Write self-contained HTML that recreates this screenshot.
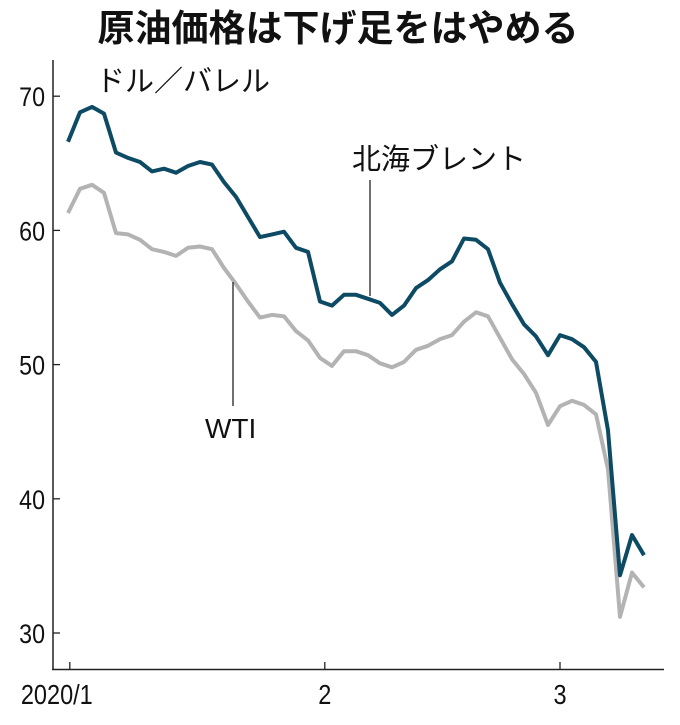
<!DOCTYPE html>
<html><head><meta charset="utf-8"><style>
body{margin:0;background:#fff;}
svg text{font-family:"Liberation Sans","Noto Sans CJK JP",sans-serif;}
</style></head><body>
<svg width="680" height="720" viewBox="0 0 680 720">
<text x="338" y="41" text-anchor="middle" font-size="37" font-weight="bold" fill="#111" style="font-family:'Noto Sans CJK JP',sans-serif">原油価格は下げ足をはやめる</text>
<text x="96" y="91" font-size="29" fill="#111" style="font-family:'Noto Sans CJK JP',sans-serif">ドル／バレル</text>
<g id="axes"></g>
<g id="series"></g>
<text x="352" y="169" font-size="29" fill="#111" style="font-family:'Noto Sans CJK JP',sans-serif">北海ブレント</text>
<line x1="370" y1="180" x2="370" y2="296" stroke="#222" stroke-width="1.3"/>
<text x="205" y="438" font-size="28" fill="#111">WTI</text>
<line x1="233" y1="282" x2="233" y2="406" stroke="#222" stroke-width="1.3"/>
</svg>
<script>
const brent=[66.6,68.8,69.2,68.7,65.8,65.4,65.1,64.4,64.6,64.3,64.8,65.1,64.9,63.6,62.5,61.0,59.5,59.7,59.9,58.7,58.4,54.7,54.4,55.2,55.2,54.9,54.6,53.7,54.4,55.7,56.3,57.1,57.7,59.4,59.3,58.6,56.1,54.5,53.0,52.1,50.7,52.2,51.9,51.3,50.2,45.1,34.3,37.3,35.8];
const wti=[61.3,63.1,63.4,62.8,59.8,59.7,59.3,58.6,58.4,58.1,58.7,58.8,58.6,57.2,56.0,54.7,53.5,53.7,53.6,52.5,51.8,50.5,49.9,51.0,51.0,50.7,50.1,49.8,50.2,51.1,51.4,51.9,52.2,53.2,53.9,53.6,52.0,50.4,49.3,47.9,45.5,46.9,47.3,47.0,46.3,42.2,31.2,34.5,33.4];
const yTicks=[30,40,50,60,70];
const xTickLabels=["2020/1","2","3"];
const xTickIndex=[0.15,21.4,41];
const NS="http://www.w3.org/2000/svg";
const X=i=>68+i*12;
const Y=v=>633-(v-30)*13.42;
const ax=document.getElementById('axes'),sr=document.getElementById('series');
function mk(tag,attrs,parent){const e=document.createElementNS(NS,tag);for(const k in attrs)e.setAttribute(k,attrs[k]);parent.appendChild(e);return e;}
let yl=mk('line',{x1:53,y1:60,x2:53,y2:670,stroke:'#222','stroke-width':1.5},ax);


let xl=mk('line',{x1:52,y1:669.5,x2:664,y2:669.5,stroke:'#222','stroke-width':1.5},ax);


yTicks.forEach(v=>{
  let t=mk('line',{x1:53,y1:Y(v),x2:60,y2:Y(v),stroke:'#222','stroke-width':1.3},ax);
  
  
  let tx=mk('text',{x:0,y:0,'font-size':27,fill:'#111','text-anchor':'end',transform:`translate(45,${Y(v)+10}) scale(0.86,1)`},ax);
  tx.textContent=v;
  
  
});
xTickIndex.forEach((ix,k)=>{
  let t=mk('line',{x1:X(ix),y1:669,x2:X(ix),y2:662,stroke:'#222','stroke-width':1.3},ax);
  
  
  let tx=mk('text',{x:0,y:0,'font-size':28,fill:'#111','text-anchor':'middle',transform:`translate(${k===0?X(ix)-13:X(ix)},704) scale(0.84,1)`},ax);
  tx.textContent=xTickLabels[k];
  
  
});
function line(data,color,name){
  const d=data.map((v,i)=>(i?'L':'M')+X(i).toFixed(1)+','+Y(v).toFixed(1)).join('');
  let p=mk('path',{d:d,fill:'none',stroke:color,'stroke-width':4,'stroke-linejoin':'round'},sr);
  
  
}
line(wti,'#b3b3b3','wti-line');
line(brent,'#0d4a63','brent-line');
</script>
</body></html>
